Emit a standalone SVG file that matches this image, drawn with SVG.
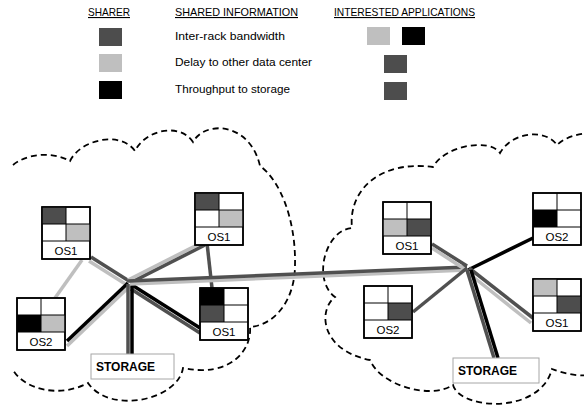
<svg xmlns="http://www.w3.org/2000/svg" width="584" height="412" viewBox="0 0 584 412">
<style>
.hd{font-family:"Liberation Sans",Arial,sans-serif;font-size:11px;fill:#000;text-decoration:underline}
.lg{font-family:"Liberation Sans",Arial,sans-serif;font-size:11.5px;fill:#000}
.lbl{font-family:"Liberation Sans",Arial,sans-serif;font-size:11.5px;fill:#000;text-anchor:middle}
.st{font-family:"Liberation Sans",Arial,sans-serif;font-size:12px;font-weight:bold;fill:#000}
.cloud{fill:none;stroke:#000;stroke-width:1.8;stroke-dasharray:6 4}
.frame{fill:#fff;stroke:#000;stroke-width:1.5}
.grid{stroke:#000;stroke-width:1;fill:none}
.dk{fill:#4d4d4d}.lt{fill:#bfbfbf}.bk{fill:#000}
.sbox{fill:#fff;stroke:#a6a6a6;stroke-width:1}
.ld{stroke:#505050;stroke-width:3.5;fill:none}
.ll{stroke:#bfbfbf;stroke-width:3.5;fill:none}
.lb{stroke:#000;stroke-width:3.5;fill:none}
</style>
<rect width="584" height="412" fill="#fff"/>
<g id="legend">
<text class="hd" x="88" y="16" textLength="42" lengthAdjust="spacingAndGlyphs">SHARER</text>
<text class="hd" x="175" y="16" textLength="123" lengthAdjust="spacingAndGlyphs">SHARED INFORMATION</text>
<text class="hd" x="334" y="16" textLength="141" lengthAdjust="spacingAndGlyphs">INTERESTED APPLICATIONS</text>
<rect class="dk" x="99" y="28" width="23" height="18"/>
<rect class="lt" x="99" y="54" width="23" height="18"/>
<rect class="bk" x="99" y="81" width="23" height="18"/>
<text class="lg" x="175" y="40" textLength="110" lengthAdjust="spacingAndGlyphs">Inter-rack bandwidth</text>
<text class="lg" x="175" y="66" textLength="137" lengthAdjust="spacingAndGlyphs">Delay to other data center</text>
<text class="lg" x="175" y="93" textLength="115" lengthAdjust="spacingAndGlyphs">Throughput to storage</text>
<rect class="lt" x="367" y="27" width="23" height="18"/>
<rect class="bk" x="402" y="27" width="23" height="18"/>
<rect class="dk" x="384" y="55" width="23" height="18"/>
<rect class="dk" x="384" y="82" width="23" height="18"/>
</g>
<g id="clouds">
<path class="cloud" d="M 13,165 C 25,155 50,150 70,161 C 80,140 120,130 135,151 C 145,130 180,122 193,142 C 205,120 250,122 260,166 C 280,180 296,220 295,265 C 295,300 275,325 250,327 C 252,350 230,378 183,368 C 178,400 110,415 88,383 C 60,398 25,390 13,370"/>
<path class="cloud" d="M 592,133 C 580,133 565,137 557,145 C 545,128 512,132 500,153 C 490,138 445,145 433,167 C 380,160 348,190 352,228 C 325,230 312,280 335,297 C 318,310 320,350 370,360 C 380,385 430,400 453,385 C 460,410 540,415 552,369 C 560,372 575,377 592,375"/>
</g>
<g id="connectors">
<line class="ll" x1="82" y1="260" x2="55" y2="298"/>
<line class="ld" x1="91" y1="257" x2="129" y2="281"/>
<line class="ll" x1="89" y1="261" x2="127" y2="285"/>
<line class="ll" x1="67" y1="346" x2="130" y2="286"/>
<line class="lb" x1="67" y1="341" x2="128" y2="283"/>
<line class="ll" x1="128" y1="280" x2="203" y2="242"/>
<line class="ld" x1="130" y1="283" x2="205" y2="245"/>
<line class="ld" x1="207" y1="243" x2="212" y2="288"/>
<line class="ld" x1="131" y1="289" x2="200" y2="333"/>
<line class="lb" x1="132" y1="285" x2="200" y2="328"/>
<line class="ld" x1="128" y1="284" x2="128" y2="354"/>
<line class="lb" x1="132" y1="284" x2="132" y2="354"/>
<line class="ll" x1="130" y1="284" x2="467" y2="270"/>
<line class="ld" x1="128" y1="281" x2="467" y2="267"/>
<line class="ld" x1="432" y1="244" x2="467" y2="266"/>
<line class="ll" x1="432" y1="248" x2="466" y2="270"/>
<line class="lb" x1="533" y1="238" x2="468" y2="270"/>
<line class="ld" x1="413" y1="312" x2="467" y2="268"/>
<line class="ll" x1="467" y1="272" x2="531" y2="323"/>
<line class="ld" x1="469" y1="268" x2="533" y2="318"/>
<line class="ld" x1="467" y1="270" x2="494" y2="358"/>
<line class="lb" x1="471" y1="270" x2="498" y2="358"/>
</g>
<g id="nodeA">
<rect class="frame" x="42" y="207" width="48" height="52"/>
<rect class="dk" x="42" y="207" width="24" height="17"/>
<rect class="lt" x="66" y="224" width="24" height="17"/>
<path class="grid" d="M66,207V241M42,224H90M42,241H90"/>
<rect class="frame" x="42" y="207" width="48" height="52" style="fill:none"/>
<text class="lbl" x="66" y="255">OS1</text>
</g>
<g id="nodeB">
<rect class="frame" x="17" y="298" width="48" height="52"/>
<rect class="bk" x="17" y="315" width="24" height="17"/>
<rect class="lt" x="41" y="315" width="24" height="17"/>
<path class="grid" d="M41,298V332M17,315H65M17,332H65"/>
<rect class="frame" x="17" y="298" width="48" height="52" style="fill:none"/>
<text class="lbl" x="41" y="346">OS2</text>
</g>
<g id="nodeC">
<rect class="frame" x="195" y="193" width="48" height="52"/>
<rect class="dk" x="195" y="193" width="24" height="17"/>
<rect class="lt" x="219" y="210" width="24" height="17"/>
<path class="grid" d="M219,193V227M195,210H243M195,227H243"/>
<rect class="frame" x="195" y="193" width="48" height="52" style="fill:none"/>
<text class="lbl" x="219" y="241">OS1</text>
</g>
<g id="nodeD">
<rect class="frame" x="200" y="288" width="48" height="52"/>
<rect class="bk" x="200" y="288" width="24" height="17"/>
<rect class="dk" x="200" y="305" width="24" height="17"/>
<path class="grid" d="M224,288V322M200,305H248M200,322H248"/>
<rect class="frame" x="200" y="288" width="48" height="52" style="fill:none"/>
<text class="lbl" x="224" y="336">OS1</text>
</g>
<g id="storageL">
<rect class="sbox" x="91" y="354" width="83" height="25"/>
<text class="st" x="96" y="371">STORAGE</text>
</g>
<g id="nodeE">
<rect class="frame" x="383" y="202" width="48" height="52"/>
<rect class="lt" x="383" y="219" width="24" height="17"/>
<rect class="dk" x="407" y="219" width="24" height="17"/>
<path class="grid" d="M407,202V236M383,219H431M383,236H431"/>
<rect class="frame" x="383" y="202" width="48" height="52" style="fill:none"/>
<text class="lbl" x="407" y="250">OS1</text>
</g>
<g id="nodeF">
<rect class="frame" x="533" y="193" width="48" height="52"/>
<rect class="bk" x="533" y="210" width="24" height="17"/>
<path class="grid" d="M557,193V227M533,210H581M533,227H581"/>
<rect class="frame" x="533" y="193" width="48" height="52" style="fill:none"/>
<text class="lbl" x="557" y="241">OS2</text>
</g>
<g id="nodeG">
<rect class="frame" x="364" y="286" width="48" height="52"/>
<rect class="dk" x="388" y="303" width="24" height="17"/>
<path class="grid" d="M388,286V320M364,303H412M364,320H412"/>
<rect class="frame" x="364" y="286" width="48" height="52" style="fill:none"/>
<text class="lbl" x="388" y="334">OS2</text>
</g>
<g id="nodeH">
<rect class="frame" x="533" y="279" width="48" height="52"/>
<rect class="lt" x="533" y="279" width="24" height="17"/>
<rect class="dk" x="557" y="296" width="24" height="17"/>
<path class="grid" d="M557,279V313M533,296H581M533,313H581"/>
<rect class="frame" x="533" y="279" width="48" height="52" style="fill:none"/>
<text class="lbl" x="557" y="327">OS1</text>
</g>
<g id="storageR">
<rect class="sbox" x="453" y="358" width="86" height="25"/>
<text class="st" x="458" y="375">STORAGE</text>
</g>
</svg>
